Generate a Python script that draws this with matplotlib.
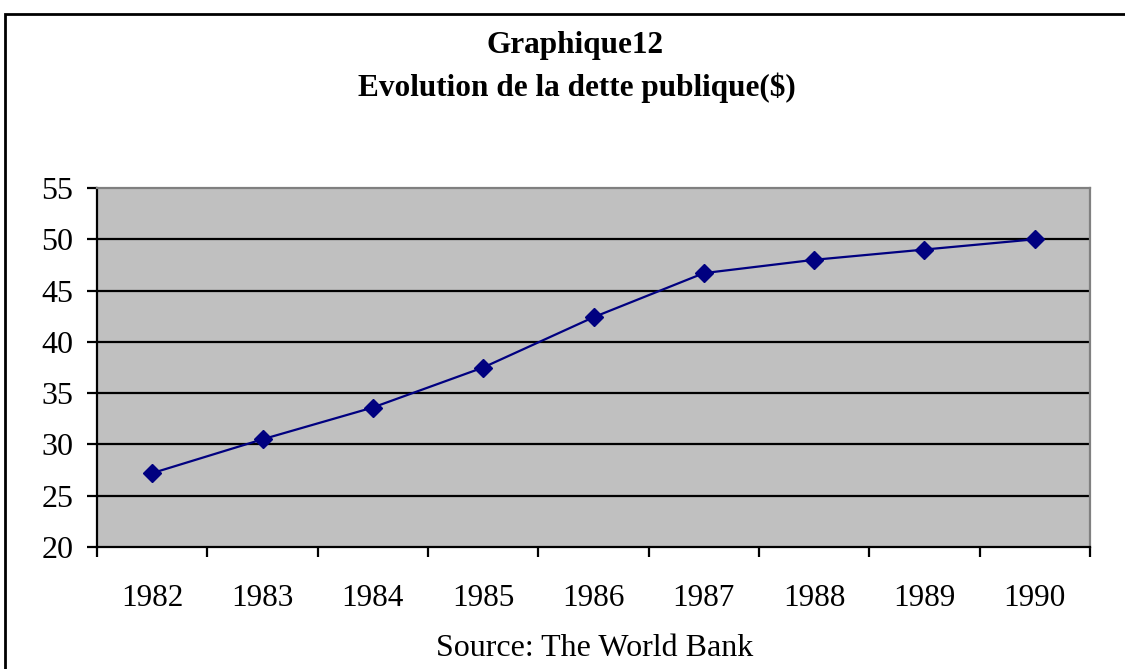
import matplotlib
matplotlib.use("Agg")
import matplotlib.pyplot as plt
from matplotlib.patches import Rectangle

years = ["1982", "1983", "1984", "1985", "1986", "1987", "1988", "1989", "1990"]
dette = [27.2, 30.5, 33.6, 37.5, 42.4, 46.7, 48.0, 49.0, 50.0]
yticks = [20, 25, 30, 35, 40, 45, 50, 55]

plt.rcParams['font.family'] = ['Liberation Serif', 'DejaVu Serif']

W, H = 1125, 669
fig = plt.figure(figsize=(W / 100, H / 100), dpi=100)
fig.patch.set_facecolor("white")

# outer chart border
fig.patches.append(Rectangle((5 / W, -0.1), 1.2, (H - 14) / H + 0.1,
                             transform=fig.transFigure, fill=False,
                             edgecolor="black", linewidth=2, zorder=0))

left, right, top, bottom = 97, 1090, 188, 547
ax = fig.add_axes([left / W, 1 - bottom / H, (right - left) / W, (bottom - top) / H])
ax.set_facecolor("#c0c0c0")

x = list(range(len(years)))
ax.set_xlim(-0.5, len(years) - 0.5)
ax.set_ylim(20, 55)

for v in yticks[1:-1]:
    ax.axhline(v, color="black", linewidth=1.6, zorder=1)

ax.plot(x, dette, color="#000080", linewidth=1.6, marker="D", markersize=9,
        markerfacecolor="#000080", markeredgecolor="#000080", zorder=3)

ax.set_yticks(yticks)
ax.set_yticklabels([str(v) for v in yticks], fontsize=23)
ax.set_xticks([i - 0.5 for i in range(len(years) + 1)])
ax.set_xticklabels([])
ax.set_xticks(x, minor=True)
ax.set_xticklabels(years, minor=True, fontsize=22.5)
ax.tick_params(axis="x", which="minor", length=0, pad=27)
ax.tick_params(axis="x", which="major", direction="out", length=7, width=1.6, color="black")
ax.tick_params(axis="y", direction="out", length=7, width=1.6, color="black", pad=10)

for s in ["left", "bottom"]:
    ax.spines[s].set_color("black")
    ax.spines[s].set_linewidth(1.6)
for s in ["top", "right"]:
    ax.spines[s].set_color("#808080")
    ax.spines[s].set_linewidth(1.6)

fig.text(575 / W, 1 - 45 / H, "Graphique12", ha="center", va="center",
         fontsize=22.5, fontweight="bold")
fig.text(577 / W, 1 - 88 / H, "Evolution de la dette publique($)", ha="center",
         va="center", fontsize=22.5, fontweight="bold")
fig.text(595 / W, 1 - 648 / H, "Source: The World Bank", ha="center", va="center",
         fontsize=23)

fig.savefig("out.png", dpi=100)
